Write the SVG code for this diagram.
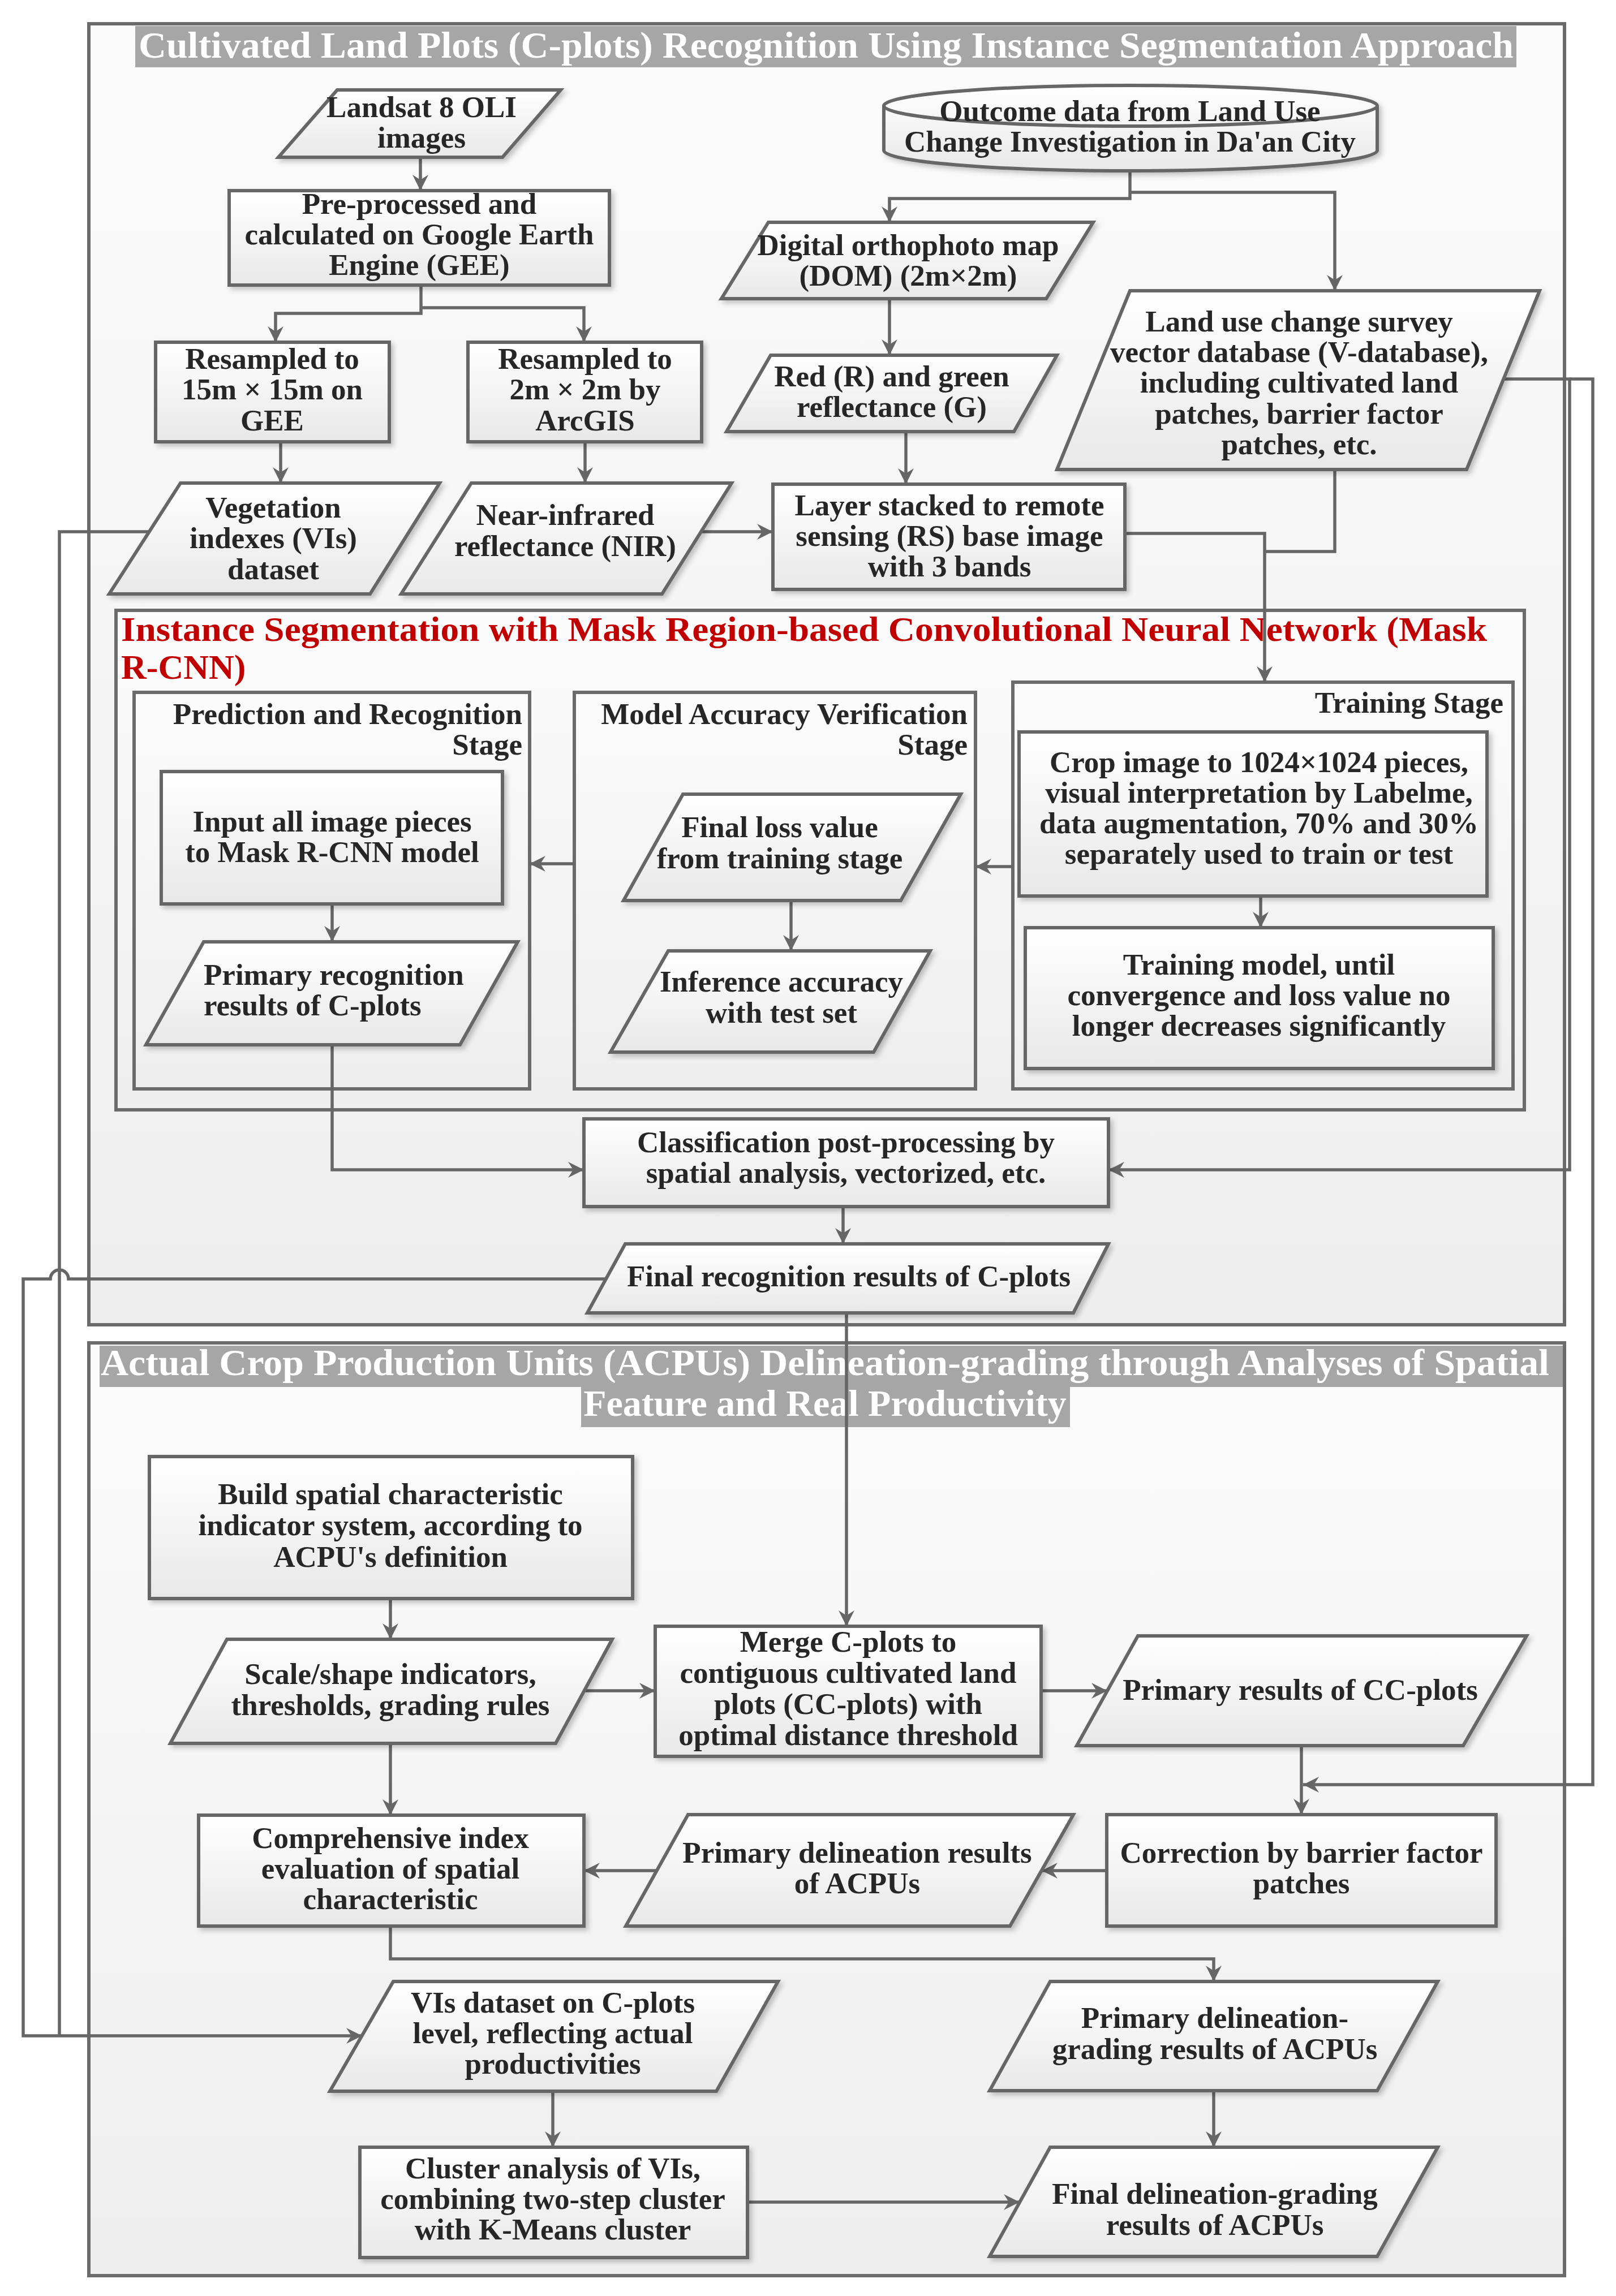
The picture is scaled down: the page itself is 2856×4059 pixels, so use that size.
<svg xmlns="http://www.w3.org/2000/svg" width="2856" height="4059" viewBox="0 0 2856 4059">
<defs>
<linearGradient id="gn" x1="0" y1="0" x2="0" y2="1"><stop offset="0" stop-color="#ffffff"/><stop offset="1" stop-color="#e8e8e8"/></linearGradient>
<linearGradient id="gf" x1="0" y1="0" x2="0" y2="1"><stop offset="0" stop-color="#fbfbfb"/><stop offset="1" stop-color="#eeeeee"/></linearGradient>
<filter id="sh" x="-10%" y="-10%" width="130%" height="130%"><feDropShadow dx="5" dy="5" stdDeviation="4" flood-color="#000" flood-opacity="0.22"/></filter>
<marker id="ar" markerUnits="userSpaceOnUse" markerWidth="32" markerHeight="32" viewBox="-30 -16 32 32" refX="0" refY="0" orient="auto"><path d="M-28,-14 L0,0 L-28,14 L-19,0 Z" fill="#666"/></marker>
<style>
.fr{fill:url(#gf);stroke:#6b6b6b;stroke-width:6}
.nd{fill:url(#gn);stroke:#666;stroke-width:6;filter:url(#sh)}
.c{fill:none;stroke:#666;stroke-width:5.5}
.a{marker-end:url(#ar)}
text{font-family:"Liberation Serif","Times New Roman",serif;font-weight:bold}
.t{font-size:53px;fill:#262626;text-anchor:middle}
.ts{font-size:53px;fill:#262626;text-anchor:start}
.te{font-size:53px;fill:#262626;text-anchor:end}
.ti{font-size:66px;fill:#ffffff;text-anchor:middle}
.rd{font-size:62px;fill:#c00000;text-anchor:start}
</style>
</defs>
<rect width="2856" height="4059" fill="#ffffff"/>

<g id="frames">
<g id="frame1">
<rect class="fr" x="157" y="42" width="2608" height="2300"/>
<rect x="239" y="46" width="2441" height="73" fill="#a6a6a6"/>
<text class="ti" x="1460" y="102" textLength="2430" lengthAdjust="spacingAndGlyphs">Cultivated Land Plots (C-plots) Recognition Using Instance Segmentation Approach</text>
</g>
<g id="maskrcnn">
<rect class="fr" x="205" y="1079" width="2489" height="883"/>
<text class="rd" x="214" y="1133" textLength="2414" lengthAdjust="spacingAndGlyphs">Instance Segmentation with Mask Region-based Convolutional Neural Network (Mask</text>
<text class="rd" x="214" y="1200">R-CNN)</text>
</g>
<g id="stage-prediction">
<rect class="fr" x="237" y="1224" width="699" height="701"/>
<text class="te" x="923" y="1280">Prediction and Recognition</text>
<text class="te" x="923" y="1334">Stage</text>
</g>
<g id="stage-verification">
<rect class="fr" x="1015" y="1224" width="709" height="701"/>
<text class="te" x="1710" y="1280">Model Accuracy Verification</text>
<text class="te" x="1710" y="1334">Stage</text>
</g>
<g id="stage-training">
<rect class="fr" x="1790" y="1206" width="884" height="719"/>
<text class="te" x="2657" y="1260">Training Stage</text>
</g>
<g id="frame2">
<rect class="fr" x="157" y="2374" width="2608" height="1649"/>
<rect x="176" y="2379" width="2586" height="73" fill="#a6a6a6"/>
<rect x="1027" y="2452" width="864" height="71" fill="#a6a6a6"/>
<text class="ti" x="1458" y="2431" textLength="2560" lengthAdjust="spacingAndGlyphs">Actual Crop Production Units (ACPUs) Delineation-grading through Analyses of Spatial</text>
<text class="ti" x="1458" y="2503">Feature and Real Productivity</text>
</g>
</g>

<g id="connectors">
<path class="c a" d="M743,278 V337"/>
<path class="c a" d="M744,504 V554 H487 V605"/>
<path class="c a" d="M744,544 H1032 V605"/>
<path class="c a" d="M496,781 V854"/>
<path class="c a" d="M1034,781 V854"/>
<path class="c a" d="M1239,940 H1366"/>
<path class="c a" d="M1997,302 V351 H1572 V393"/>
<path class="c a" d="M1997,340 H2359 V514"/>
<path class="c a" d="M1572,528 V628"/>
<path class="c a" d="M1601,763 V856"/>
<path class="c a" d="M1988,943 H2235 V1206"/>
<path class="c" d="M2359,830 V975 H2235"/>
<path class="c a" d="M1790,1532 H1724"/>
<path class="c a" d="M1015,1527 H936"/>
<path class="c a" d="M1398,1592 V1681"/>
<path class="c a" d="M587,1598 V1665"/>
<path class="c a" d="M2228,1584 V1640"/>
<path class="c a" d="M587,1847 V2068 H1032"/>
<path class="c a" d="M2645,670 H2774 V2068 H1959"/>
<path class="c a" d="M2774,670 H2815 V3155 H2303"/>
<path class="c a" d="M1490,2133 V2199"/>
<path class="c a" d="M1071,2261 H121 A16,16 0 0,0 89,2261 H41 V3599 H640"/>
<path class="c" d="M262,940 H105 V3599"/>
<path class="c a" d="M1496,2321 V2875"/>
<path class="c a" d="M690,2826 V2898"/>
<path class="c a" d="M1035,2989 H1158"/>
<path class="c a" d="M690,3082 V3209"/>
<path class="c a" d="M1840,2989 H1957"/>
<path class="c a" d="M2300,3086 V3208"/>
<path class="c a" d="M1956,3307 H1841"/>
<path class="c a" d="M1161,3307 H1032"/>
<path class="c a" d="M690,3405 V3463 H2145 V3503"/>
<path class="c a" d="M977,3697 V3796"/>
<path class="c a" d="M1321,3893 H1802"/>
<path class="c a" d="M2145,3696 V3796"/>
</g>

<g id="n-landsat"><polygon class="nd" points="596,159 991,159 888,278 492,278"/>
<text class="t" x="745" y="207">Landsat 8 OLI</text><text class="t" x="745" y="261">images</text></g>
<g id="n-gee"><rect class="nd" x="405" y="337" width="672" height="167"/>
<text class="t" x="741" y="378">Pre-processed and</text><text class="t" x="741" y="432">calculated on Google Earth</text><text class="t" x="741" y="486">Engine (GEE)</text></g>
<g id="n-res15"><rect class="nd" x="275" y="605" width="413" height="176"/>
<text class="t" x="481" y="652">Resampled to</text><text class="t" x="481" y="706">15m × 15m on</text><text class="t" x="481" y="761">GEE</text></g>
<g id="n-res2"><rect class="nd" x="827" y="605" width="413" height="176"/>
<text class="t" x="1034" y="652">Resampled to</text><text class="t" x="1034" y="706">2m × 2m by</text><text class="t" x="1034" y="761">ArcGIS</text></g>
<g id="n-vi"><polygon class="nd" points="319,854 777,854 654,1050 193,1050"/>
<text class="t" x="483" y="915">Vegetation</text><text class="t" x="483" y="969">indexes (VIs)</text><text class="t" x="483" y="1024">dataset</text></g>
<g id="n-nir"><polygon class="nd" points="833,854 1293,854 1170,1050 709,1050"/>
<text class="t" x="999" y="928">Near-infrared</text><text class="t" x="999" y="983">reflectance (NIR)</text></g>
<g id="n-outcome">
<path class="nd" d="M1562,187 A436,36 0 0,1 2434,187 L2434,266 A436,36 0 0,1 1562,266 Z"/>
<path d="M1562,187 A436,36 0 0,0 2434,187" fill="none" stroke="#666" stroke-width="6"/>
<text class="t" x="1997" y="214">Outcome data from Land Use</text><text class="t" x="1997" y="268">Change Investigation in Da'an City</text></g>
<g id="n-dom"><polygon class="nd" points="1358,393 1932,393 1849,528 1275,528"/>
<text class="t" x="1605" y="451">Digital orthophoto map</text><text class="t" x="1605" y="505">(DOM) (2m×2m)</text></g>
<g id="n-rg"><polygon class="nd" points="1362,628 1868,628 1792,763 1284,763"/>
<text class="t" x="1576" y="683">Red (R) and green</text><text class="t" x="1576" y="737">reflectance (G)</text></g>
<g id="n-layer"><rect class="nd" x="1366" y="856" width="622" height="186"/>
<text class="t" x="1678" y="911">Layer stacked to remote</text><text class="t" x="1678" y="965">sensing (RS) base image</text><text class="t" x="1678" y="1019">with 3 bands</text></g>
<g id="n-vdb"><polygon class="nd" points="1997,514 2721,514 2592,830 1868,830"/>
<text class="t" x="2296" y="586">Land use change survey</text><text class="t" x="2296" y="640">vector database (V-database),</text><text class="t" x="2296" y="694">including cultivated land</text><text class="t" x="2296" y="749">patches, barrier factor</text><text class="t" x="2296" y="803">patches, etc.</text></g>
<g id="n-input"><rect class="nd" x="285" y="1364" width="603" height="234"/>
<text class="t" x="587" y="1470">Input all image pieces</text><text class="t" x="587" y="1524">to Mask R-CNN model</text></g>
<g id="n-primrec"><polygon class="nd" points="360,1665 915,1665 813,1847 258,1847"/>
<text class="ts" x="360" y="1741">Primary recognition</text><text class="ts" x="360" y="1795">results of C-plots</text></g>
<g id="n-loss"><polygon class="nd" points="1207,1404 1698,1404 1592,1592 1102,1592"/>
<text class="t" x="1378" y="1480">Final loss value</text><text class="t" x="1378" y="1535">from training stage</text></g>
<g id="n-infer"><polygon class="nd" points="1181,1681 1644,1681 1544,1860 1079,1860"/>
<text class="t" x="1381" y="1753">Inference accuracy</text><text class="t" x="1381" y="1808">with test set</text></g>
<g id="n-crop"><rect class="nd" x="1801" y="1294" width="827" height="290"/>
<text class="t" x="2225" y="1365">Crop image to 1024×1024 pieces,</text><text class="t" x="2225" y="1419">visual interpretation by Labelme,</text><text class="t" x="2225" y="1473">data augmentation, 70% and 30%</text><text class="t" x="2225" y="1527">separately used to train or test</text></g>
<g id="n-train"><rect class="nd" x="1812" y="1640" width="827" height="249"/>
<text class="t" x="2225" y="1723">Training model, until</text><text class="t" x="2225" y="1777">convergence and loss value no</text><text class="t" x="2225" y="1831">longer decreases significantly</text></g>
<g id="n-class"><rect class="nd" x="1032" y="1978" width="927" height="155"/>
<text class="t" x="1495" y="2037">Classification post-processing by</text><text class="t" x="1495" y="2091">spatial analysis, vectorized, etc.</text></g>
<g id="n-finalrec"><polygon class="nd" points="1105,2199 1959,2199 1897,2321 1038,2321"/>
<text class="t" x="1500" y="2274">Final recognition results of C-plots</text></g>
<g id="n-build"><rect class="nd" x="264" y="2575" width="854" height="251"/>
<text class="t" x="690" y="2659">Build spatial characteristic</text><text class="t" x="690" y="2714">indicator system, according to</text><text class="t" x="690" y="2770">ACPU's definition</text></g>
<g id="n-scale"><polygon class="nd" points="401,2898 1082,2898 982,3082 301,3082"/>
<text class="t" x="690" y="2977">Scale/shape indicators,</text><text class="t" x="690" y="3032">thresholds, grading rules</text></g>
<g id="n-merge"><rect class="nd" x="1158" y="2875" width="682" height="230"/>
<text class="t" x="1499" y="2920">Merge C-plots to</text><text class="t" x="1499" y="2975">contiguous cultivated land</text><text class="t" x="1499" y="3030">plots (CC-plots) with</text><text class="t" x="1499" y="3085">optimal distance threshold</text></g>
<g id="n-cc"><polygon class="nd" points="2011,2892 2698,2892 2586,3086 1903,3086"/>
<text class="t" x="2298" y="3005">Primary results of CC-plots</text></g>
<g id="n-corr"><rect class="nd" x="1956" y="3208" width="688" height="197"/>
<text class="t" x="2300" y="3293">Correction by barrier factor</text><text class="t" x="2300" y="3347">patches</text></g>
<g id="n-primdel"><polygon class="nd" points="1216,3208 1897,3208 1785,3405 1106,3405"/>
<text class="t" x="1515" y="3293">Primary delineation results</text><text class="t" x="1515" y="3347">of ACPUs</text></g>
<g id="n-comp"><rect class="nd" x="351" y="3209" width="681" height="196"/>
<text class="t" x="690" y="3267">Comprehensive index</text><text class="t" x="690" y="3321">evaluation of spatial</text><text class="t" x="690" y="3375">characteristic</text></g>
<g id="n-pdg"><polygon class="nd" points="1856,3503 2541,3503 2434,3696 1749,3696"/>
<text class="t" x="2147" y="3585">Primary delineation-</text><text class="t" x="2147" y="3640">grading results of ACPUs</text></g>
<g id="n-vic"><polygon class="nd" points="695,3503 1375,3503 1266,3697 583,3697"/>
<text class="t" x="977" y="3558">VIs dataset on C-plots</text><text class="t" x="977" y="3612">level, reflecting actual</text><text class="t" x="977" y="3666">productivities</text></g>
<g id="n-cluster"><rect class="nd" x="636" y="3796" width="685" height="195"/>
<text class="t" x="977" y="3851">Cluster analysis of VIs,</text><text class="t" x="977" y="3905">combining two-step cluster</text><text class="t" x="977" y="3959">with K-Means cluster</text></g>
<g id="n-final"><polygon class="nd" points="1856,3796 2541,3796 2434,3989 1749,3989"/>
<text class="t" x="2147" y="3896">Final delineation-grading</text><text class="t" x="2147" y="3951">results of ACPUs</text></g>
</svg>
